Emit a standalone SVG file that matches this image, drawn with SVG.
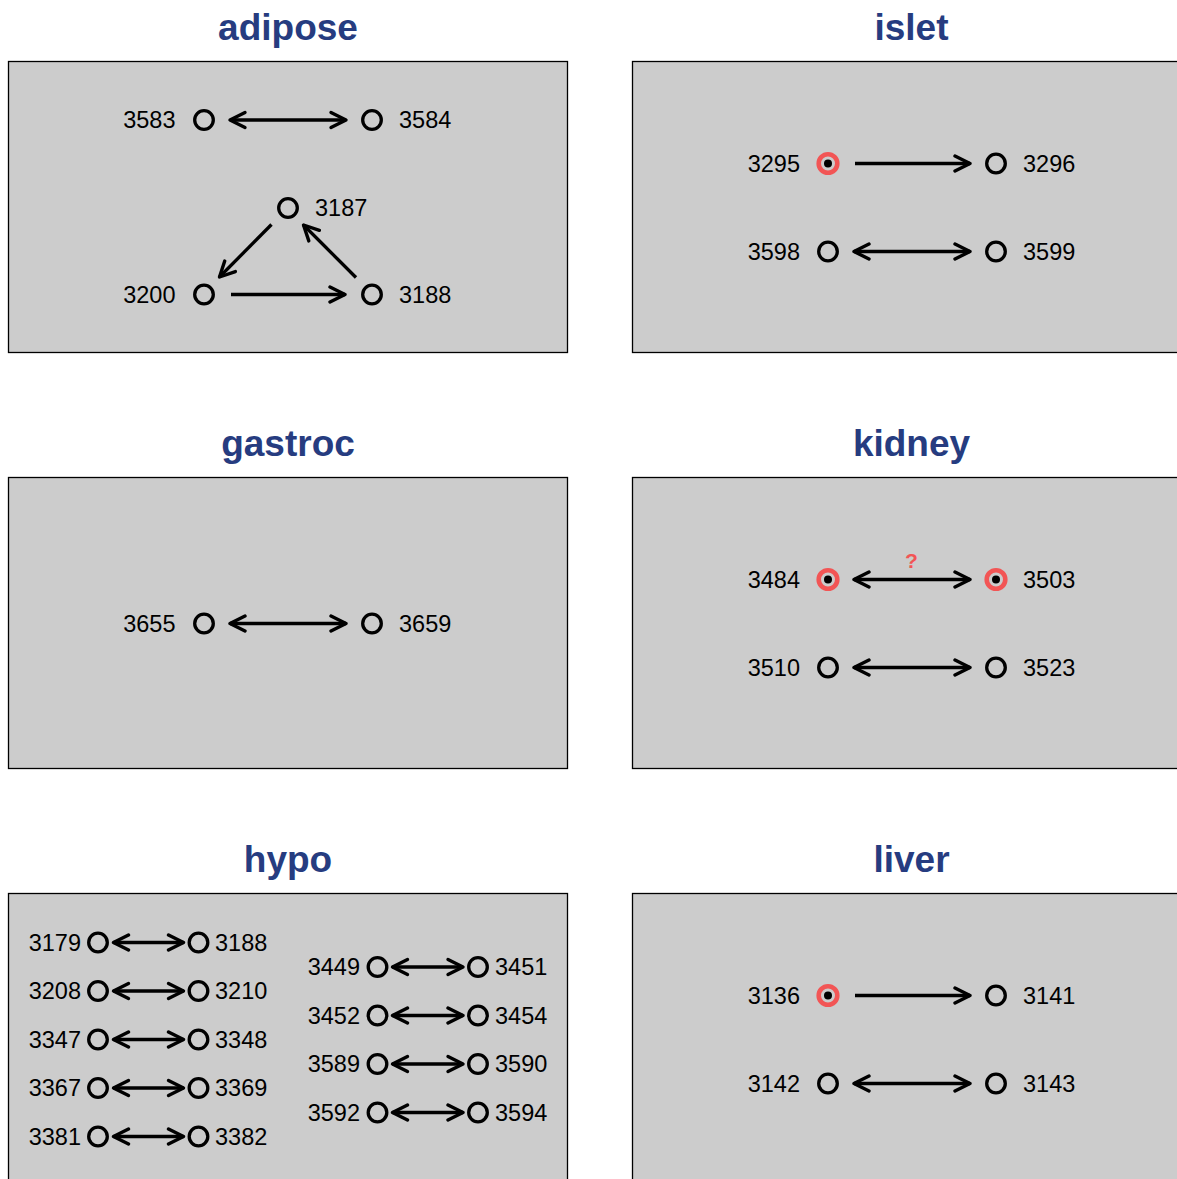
<svg xmlns="http://www.w3.org/2000/svg" width="1177" height="1179" viewBox="0 0 1177 1179">
<style>
.panel{fill:#cccccc;stroke:#000;stroke-width:1.3}
.title{font-family:"Liberation Sans",Arial,sans-serif;font-weight:bold;font-size:37px;fill:#263c80;text-anchor:middle}
.lbl{font-family:"Liberation Sans",Arial,sans-serif;font-size:23.5px;fill:#000}
.end{text-anchor:end}
.n{fill:none;stroke:#000;stroke-width:3.3}
.r{fill:none;stroke:#f25555;stroke-width:4.6}
.dot{fill:#000}
.e{fill:none;stroke:#000;stroke-width:3.3}
.q{font-family:"Liberation Sans",Arial,sans-serif;font-weight:bold;font-size:21px;fill:#f25555;text-anchor:middle}
</style>
<defs>
<marker id="ah" viewBox="-20 -10 24 20" refX="0" refY="0" markerWidth="24" markerHeight="20" markerUnits="userSpaceOnUse" orient="auto-start-reverse">
<path d="M-15,-7.5 L0,0 L-15,7.5" fill="none" stroke="#000" stroke-width="3.4" stroke-linecap="round" stroke-linejoin="round"/>
</marker>
</defs>
<rect width="1177" height="1179" fill="#fff"/>
<g id="panels">
<rect class="panel" x="8.5" y="61.5" width="559" height="291"/>
<rect class="panel" x="632.5" y="61.5" width="559" height="291"/>
<rect class="panel" x="8.5" y="477.5" width="559" height="291"/>
<rect class="panel" x="632.5" y="477.5" width="559" height="291"/>
<rect class="panel" x="8.5" y="893.5" width="559" height="291"/>
<rect class="panel" x="632.5" y="893.5" width="559" height="291"/>
</g>
<g id="titles">
<text class="title" x="288" y="40">adipose</text>
<text class="title" x="911.5" y="40">islet</text>
<text class="title" x="288" y="456">gastroc</text>
<text class="title" x="911.5" y="456">kidney</text>
<text class="title" x="288" y="872">hypo</text>
<text class="title" x="911.5" y="872">liver</text>
</g>
<g id="connectors">
<line class="e" x1="230" y1="120" x2="346" y2="120" marker-start="url(#ah)" marker-end="url(#ah)"/>
<line class="e" x1="271.5" y1="224.5" x2="219.5" y2="277" marker-end="url(#ah)"/>
<line class="e" x1="356" y1="277.5" x2="303.5" y2="225" marker-end="url(#ah)"/>
<line class="e" x1="231" y1="294.5" x2="345" y2="294.5" marker-end="url(#ah)"/>
<line class="e" x1="855" y1="163.5" x2="970" y2="163.5" marker-end="url(#ah)"/>
<line class="e" x1="854" y1="251.5" x2="970" y2="251.5" marker-start="url(#ah)" marker-end="url(#ah)"/>
<line class="e" x1="230" y1="623.5" x2="346" y2="623.5" marker-start="url(#ah)" marker-end="url(#ah)"/>
<line class="e" x1="854" y1="579.5" x2="970" y2="579.5" marker-start="url(#ah)" marker-end="url(#ah)"/>
<text class="q" x="911.5" y="567.5">?</text>
<line class="e" x1="854" y1="667.5" x2="970" y2="667.5" marker-start="url(#ah)" marker-end="url(#ah)"/>
<line class="e" x1="855" y1="995.5" x2="970" y2="995.5" marker-end="url(#ah)"/>
<line class="e" x1="854" y1="1083.5" x2="970" y2="1083.5" marker-start="url(#ah)" marker-end="url(#ah)"/>
<line class="e" x1="113.5" y1="942.5" x2="183.5" y2="942.5" marker-start="url(#ah)" marker-end="url(#ah)"/>
<line class="e" x1="113.5" y1="991" x2="183.5" y2="991" marker-start="url(#ah)" marker-end="url(#ah)"/>
<line class="e" x1="113.5" y1="1039.5" x2="183.5" y2="1039.5" marker-start="url(#ah)" marker-end="url(#ah)"/>
<line class="e" x1="113.5" y1="1088" x2="183.5" y2="1088" marker-start="url(#ah)" marker-end="url(#ah)"/>
<line class="e" x1="113.5" y1="1136.5" x2="183.5" y2="1136.5" marker-start="url(#ah)" marker-end="url(#ah)"/>
<line class="e" x1="392.5" y1="967" x2="463" y2="967" marker-start="url(#ah)" marker-end="url(#ah)"/>
<line class="e" x1="392.5" y1="1015.5" x2="463" y2="1015.5" marker-start="url(#ah)" marker-end="url(#ah)"/>
<line class="e" x1="392.5" y1="1064" x2="463" y2="1064" marker-start="url(#ah)" marker-end="url(#ah)"/>
<line class="e" x1="392.5" y1="1112.5" x2="463" y2="1112.5" marker-start="url(#ah)" marker-end="url(#ah)"/>
</g>
<g id="adipose-3583"><circle class="n" cx="204" cy="120" r="9.3"/><text class="lbl end" x="175.5" y="128.4">3583</text></g>
<g id="adipose-3584"><circle class="n" cx="372" cy="120" r="9.3"/><text class="lbl" x="399" y="128.4">3584</text></g>
<g id="adipose-3187"><circle class="n" cx="288" cy="208" r="9.3"/><text class="lbl" x="315" y="216.4">3187</text></g>
<g id="adipose-3200"><circle class="n" cx="204" cy="294.5" r="9.3"/><text class="lbl end" x="175.5" y="302.9">3200</text></g>
<g id="adipose-3188"><circle class="n" cx="372" cy="294.5" r="9.3"/><text class="lbl" x="399" y="302.9">3188</text></g>
<g id="islet-3295"><circle class="r" cx="828" cy="163.5" r="9.3"/><circle class="dot" cx="828" cy="163.5" r="4"/><text class="lbl end" x="800" y="171.9">3295</text></g>
<g id="islet-3296"><circle class="n" cx="996" cy="163.5" r="9.3"/><text class="lbl" x="1023" y="171.9">3296</text></g>
<g id="islet-3598"><circle class="n" cx="828" cy="251.5" r="9.3"/><text class="lbl end" x="800" y="259.9">3598</text></g>
<g id="islet-3599"><circle class="n" cx="996" cy="251.5" r="9.3"/><text class="lbl" x="1023" y="259.9">3599</text></g>
<g id="gastroc-3655"><circle class="n" cx="204" cy="623.5" r="9.3"/><text class="lbl end" x="175.5" y="631.9">3655</text></g>
<g id="gastroc-3659"><circle class="n" cx="372" cy="623.5" r="9.3"/><text class="lbl" x="399" y="631.9">3659</text></g>
<g id="kidney-3484"><circle class="r" cx="828" cy="579.5" r="9.3"/><circle class="dot" cx="828" cy="579.5" r="4"/><text class="lbl end" x="800" y="587.9">3484</text></g>
<g id="kidney-3503"><circle class="r" cx="996" cy="579.5" r="9.3"/><circle class="dot" cx="996" cy="579.5" r="4"/><text class="lbl" x="1023" y="587.9">3503</text></g>
<g id="kidney-3510"><circle class="n" cx="828" cy="667.5" r="9.3"/><text class="lbl end" x="800" y="675.9">3510</text></g>
<g id="kidney-3523"><circle class="n" cx="996" cy="667.5" r="9.3"/><text class="lbl" x="1023" y="675.9">3523</text></g>
<g id="liver-3136"><circle class="r" cx="828" cy="995.5" r="9.3"/><circle class="dot" cx="828" cy="995.5" r="4"/><text class="lbl end" x="800" y="1003.9">3136</text></g>
<g id="liver-3141"><circle class="n" cx="996" cy="995.5" r="9.3"/><text class="lbl" x="1023" y="1003.9">3141</text></g>
<g id="liver-3142"><circle class="n" cx="828" cy="1083.5" r="9.3"/><text class="lbl end" x="800" y="1091.9">3142</text></g>
<g id="liver-3143"><circle class="n" cx="996" cy="1083.5" r="9.3"/><text class="lbl" x="1023" y="1091.9">3143</text></g>
<g id="hypo-3179"><circle class="n" cx="98" cy="942.5" r="9.3"/><text class="lbl end" x="81" y="950.9">3179</text></g>
<g id="hypo-3188"><circle class="n" cx="198.5" cy="942.5" r="9.3"/><text class="lbl" x="215" y="950.9">3188</text></g>
<g id="hypo-3208"><circle class="n" cx="98" cy="991" r="9.3"/><text class="lbl end" x="81" y="999.4">3208</text></g>
<g id="hypo-3210"><circle class="n" cx="198.5" cy="991" r="9.3"/><text class="lbl" x="215" y="999.4">3210</text></g>
<g id="hypo-3347"><circle class="n" cx="98" cy="1039.5" r="9.3"/><text class="lbl end" x="81" y="1047.9">3347</text></g>
<g id="hypo-3348"><circle class="n" cx="198.5" cy="1039.5" r="9.3"/><text class="lbl" x="215" y="1047.9">3348</text></g>
<g id="hypo-3367"><circle class="n" cx="98" cy="1088" r="9.3"/><text class="lbl end" x="81" y="1096.4">3367</text></g>
<g id="hypo-3369"><circle class="n" cx="198.5" cy="1088" r="9.3"/><text class="lbl" x="215" y="1096.4">3369</text></g>
<g id="hypo-3381"><circle class="n" cx="98" cy="1136.5" r="9.3"/><text class="lbl end" x="81" y="1144.9">3381</text></g>
<g id="hypo-3382"><circle class="n" cx="198.5" cy="1136.5" r="9.3"/><text class="lbl" x="215" y="1144.9">3382</text></g>
<g id="hypo-3449"><circle class="n" cx="377.5" cy="967" r="9.3"/><text class="lbl end" x="360" y="975.4">3449</text></g>
<g id="hypo-3451"><circle class="n" cx="478" cy="967" r="9.3"/><text class="lbl" x="495" y="975.4">3451</text></g>
<g id="hypo-3452"><circle class="n" cx="377.5" cy="1015.5" r="9.3"/><text class="lbl end" x="360" y="1023.9">3452</text></g>
<g id="hypo-3454"><circle class="n" cx="478" cy="1015.5" r="9.3"/><text class="lbl" x="495" y="1023.9">3454</text></g>
<g id="hypo-3589"><circle class="n" cx="377.5" cy="1064" r="9.3"/><text class="lbl end" x="360" y="1072.4">3589</text></g>
<g id="hypo-3590"><circle class="n" cx="478" cy="1064" r="9.3"/><text class="lbl" x="495" y="1072.4">3590</text></g>
<g id="hypo-3592"><circle class="n" cx="377.5" cy="1112.5" r="9.3"/><text class="lbl end" x="360" y="1120.9">3592</text></g>
<g id="hypo-3594"><circle class="n" cx="478" cy="1112.5" r="9.3"/><text class="lbl" x="495" y="1120.9">3594</text></g>
</svg>
